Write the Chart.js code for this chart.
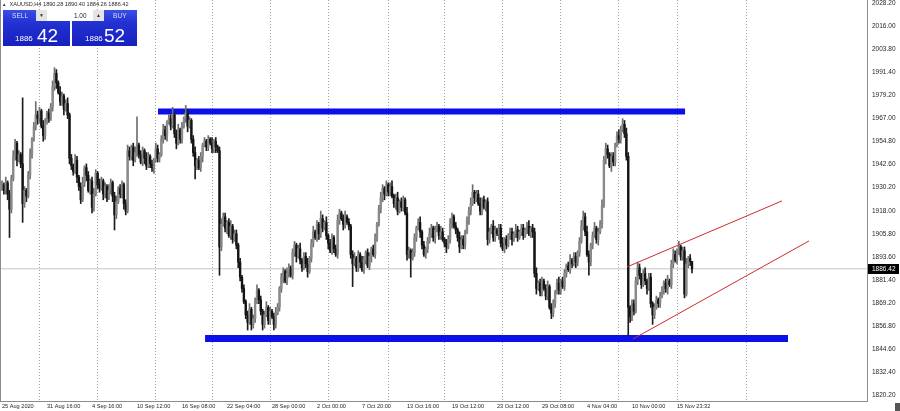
<!DOCTYPE html>
<html>
<head>
<meta charset="utf-8">
<script src="https://cdn.jsdelivr.net/npm/chart.js@4.4.1/dist/chart.umd.min.js"></script>
<style>
  html, body { margin: 0; padding: 0; background: #fff; }
  #wrap { position: relative; width: 900px; height: 411px; overflow: hidden; font-family: "Liberation Sans", Arial, sans-serif; }
  canvas { display: block; }
  #hdr { position: absolute; left: 2px; top: 0px; font-size: 5.6px; line-height: 8px; color: #2a2a2a; white-space: nowrap; }
  #hdr .tri { font-size: 4.5px; margin-right: 3px; }
  .blk { position: absolute; top: 10px; height: 36px; background: linear-gradient(to bottom, #3b4ee6 0%, #2332d2 35%, #1620bd 100%); }
  #sellBlk { left: 3px; width: 67px; }
  #buyBlk { left: 72px; width: 65px; }
  #lot { position: absolute; left: 36px; top: 10px; width: 68px; height: 11px; background: #fff; }
  #lot .btn { position: absolute; top: 0; width: 11px; height: 11px; background: #e4e4e4; color: #333; font-size: 5px; line-height: 11px; text-align: center; }
  #lotv { position: absolute; left: 38px; top: 0; font-size: 6.4px; line-height: 11px; color: #222; }
  .cap { position: absolute; top: 10px; font-size: 6.6px; line-height: 11px; color: #d9ddff; }
  .sm { position: absolute; top: 35px; font-size: 8px; line-height: 8px; color: #fff; }
  .bg { position: absolute; top: 26px; font-size: 19px; line-height: 19px; color: #fff; }
  #corner { position: absolute; left: 895px; top: 403px; width: 5px; height: 8px; background: #555; }
</style>
</head>
<body>
<div id="wrap">
  <canvas id="chart" width="900" height="411"></canvas>
  <div id="hdr"><span class="tri">▲</span><span id="ohlc"></span></div>
  <div class="blk" id="sellBlk"></div>
  <div class="blk" id="buyBlk"></div>
  <div id="lot"><span class="btn" style="left:0">▼</span><span id="lotv">1.00</span><span class="btn" style="left:57px">▲</span></div>
  <div class="cap" style="left:12px">SELL</div>
  <div class="cap" style="left:113px">BUY</div>
  <div class="sm" id="sellBig" style="left:15px"></div>
  <div class="bg" id="sellPips" style="left:37px"></div>
  <div class="sm" id="buyBig" style="left:85px"></div>
  <div class="bg" id="buyPips" style="left:104px"></div>
  <div id="corner"></div>
</div>
<script>
// XAUUSD, H4 — one candle per bar index, oldest first
const symbol = 'XAUUSD,H4';
const firstOpen = 1929;
const closes = [
  1931,1928,1932,1926,1918,1934,1946,1953,1944,1947,
  1942,1921,1928,1925,1936,1947,1955,1962,1968,1966,
  1970,1962,1957,1964,1969,1966,1972,1983,1990,1985,
  1980,1975,1978,1971,1974,1968,1945,1941,1938,1944,
  1935,1930,1923,1932,1940,1936,1928,1933,1919,1926,
  1937,1931,1929,1933,1926,1930,1924,1928,1932,1925,
  1915,1922,1929,1926,1931,1921,1917,1949,1946,1951,
  1944,1948,1952,1947,1943,1949,1945,1941,1946,1942,
  1940,1944,1950,1945,1947,1955,1960,1957,1964,1966,
  1962,1968,1958,1953,1960,1955,1962,1966,1969,1962,
  1965,1955,1948,1941,1944,1940,1946,1952,1954,1951,
  1955,1953,1950,1954,1951,1949,1898,1910,1914,1908,
  1911,1904,1909,1902,1905,1899,1890,1882,1876,1869,
  1862,1858,1865,1857,1860,1869,1875,1870,1864,1857,
  1862,1866,1859,1864,1861,1857,1863,1866,1876,1882,
  1885,1880,1884,1887,1883,1895,1899,1893,1897,1891,
  1887,1893,1889,1885,1892,1900,1906,1903,1910,1905,
  1913,1908,1911,1904,1900,1896,1903,1897,1894,1912,
  1916,1913,1910,1914,1911,1909,1894,1889,1892,1887,
  1894,1890,1886,1891,1895,1888,1893,1897,1894,1903,
  1910,1918,1924,1929,1926,1931,1927,1930,1925,1921,
  1924,1917,1922,1919,1923,1916,1894,1896,1892,1895,
  1903,1908,1911,1906,1899,1894,1897,1901,1905,1908,
  1903,1907,1909,1904,1906,1902,1900,1898,1902,1910,
  1914,1909,1907,1903,1898,1902,1899,1906,1912,1917,
  1921,1927,1924,1926,1921,1917,1923,1919,1922,1902,
  1906,1909,1903,1907,1905,1908,1900,1897,1902,1899,
  1904,1906,1902,1905,1907,1903,1906,1908,1904,1907,
  1909,1905,1908,1906,1884,1876,1879,1874,1880,1876,
  1872,1877,1866,1863,1868,1874,1879,1875,1880,1877,
  1884,1888,1886,1891,1889,1893,1890,1895,1901,1909,
  1914,1906,1894,1890,1899,1904,1908,1902,1906,1910,
  1920,1944,1950,1947,1941,1946,1943,1952,1957,1955,
  1960,1963,1958,1946,1866,1861,1868,1864,1880,1887,
  1883,1878,1884,1880,1876,1882,1868,1862,1866,1870,
  1868,1872,1875,1879,1876,1880,1878,1889,1894,1891,
  1895,1898,1893,1896,1873,1889,1892,1890.28,1886.42
];
// wick lengths above the body top / below the body bottom
const upperWick = [
  2,1,3,1,2,2,3,2,1,2, 1,35,2,1,2,3,1,2,7,2, 2,1,3,2,1,2,2,3,3,2, 1,3,2,1,2,3,1,2,1,3,
  2,1,2,3,1,2,2,1,2,3, 2,1,3,2,1,2,1,3,2,1, 2,3,1,2,2,1,2,3,2,1, 2,3,15,1,2,2,1,3,2,1,
  2,1,3,2,1,2,3,2,1,2, 2,4,1,2,3,1,2,1,4,2, 2,1,2,3,1,2,2,1,2,1, 2,1,3,1,2,1,2,3,2,2,
  1,2,3,1,2,2,1,2,1,2, 1,2,3,1,2,2,3,1,2,1, 2,3,1,2,1,2,3,2,1,2, 2,1,3,2,1,2,2,1,2,3,
  1,2,2,3,1,2,3,1,2,1, 4,2,1,3,1,2,2,1,2,3, 2,1,2,3,1,2,1,2,3,1, 2,1,3,2,1,2,2,1,2,2,
  1,2,3,2,1,2,1,2,3,1, 2,3,1,2,2,1,3,2,1,2, 2,1,2,3,1,2,1,2,3,2, 1,2,2,1,3,2,1,2,2,3,
  2,1,2,1,3,2,2,1,2,2, 3,4,1,2,2,3,1,2,1,2, 2,1,3,2,1,2,2,3,1,2, 1,2,2,1,3,2,1,2,2,1,
  2,3,1,2,2,3,1,2,2,1, 2,3,1,2,2,1,2,3,1,2, 2,1,2,3,1,2,2,1,2,3, 3,2,3,2,1,2,3,1,2,2,
  3,2,3,2,1,2,2,1,2,3, 2,3,2,3,2,1,2,2,2,3, 2,1,2,3,1,2,2,1,2,2, 1,2,2,1,2,3,1,2,3,2,
  2,3,1,2,2,3,1,2,0.12
];
const lowerWick = [
  1,2,2,3,15,2,1,2,3,1, 2,10,2,3,1,2,2,1,2,3, 2,1,3,2,1,2,1,2,2,3, 1,2,2,3,1,2,3,2,2,1,
  3,2,2,1,2,3,1,2,3,2, 1,2,2,1,3,2,2,1,2,3, 8,2,1,2,2,3,2,1,2,2, 3,1,2,2,1,2,3,2,1,2,
  2,3,1,2,2,1,2,2,3,1, 2,1,2,3,1,2,2,1,2,3, 1,2,2,7,2,1,2,3,1,2, 2,1,2,2,3,1,15,2,1,2,
  3,1,2,2,1,2,3,2,2,1, 2,4,1,3,2,2,1,2,2,3, 2,1,2,2,1,3,2,1,2,2, 3,1,2,2,1,2,2,3,1,2,
  2,1,2,3,1,2,2,1,2,3, 2,2,1,2,3,1,2,2,1,2, 2,1,3,2,1,2,2,12,1,2, 2,3,1,2,2,1,2,3,1,2,
  2,1,2,2,3,1,2,2,1,2, 3,2,1,2,2,1,3,2,10,1, 2,2,1,3,2,1,2,2,1,2, 2,3,1,2,2,1,2,3,1,2,
  2,1,2,2,3,1,2,2,1,2, 2,1,3,2,1,2,2,1,2,3, 2,1,2,2,1,3,2,1,2,2, 1,2,3,1,2,2,1,2,2,1,
  2,1,2,3,2,3,1,2,2,1, 2,2,1,3,2,2,1,2,2,1, 2,2,1,2,2,1,3,2,2,1, 2,2,1,7,2,2,1,2,3,1,
  2,1,2,2,1,3,2,2,1,2, 2,1,2,2,15,3,2,2,1,2, 2,2,1,2,3,1,2,5,2,1, 2,2,1,2,2,3,1,2,2,1,
  2,1,2,2,2,1,2,2,2.16
];

// time axis: label text and the bar each label starts at
const timeLabels = ['25 Aug 2020','31 Aug 16:00','4 Sep 16:00','10 Sep 12:00','16 Sep 08:00','22 Sep 04:00',
  '28 Sep 00:00','2 Oct 00:00','7 Oct 20:00','13 Oct 16:00','19 Oct 12:00','23 Oct 12:00',
  '29 Oct 08:00','4 Nov 04:00','10 Nov 00:00','15 Nov 23:32'];
const labelBars = [0,24,48,72,96,120,144,168,192,216,240,264,288,312,336,360];
// weekly separators (dotted)
const gridBars = [20,51,82,112,143,174,206,236,267,298,329,360,397];
// price axis
const priceTicks = [2028.20,2016.00,2003.80,1991.40,1979.20,1967.00,1954.80,1942.60,1930.20,1918.00,
  1905.80,1893.60,1881.40,1869.20,1856.80,1844.60,1832.40,1820.20];

const bid = 1886.42;
const ask = 1886.52;

// drawn objects: [bar, price] end points
const resistanceBand = [[83.2, 1969.8], [364.3, 1969.8]];
const supportBand = [[108.3, 1849.5], [419.2, 1849.5]];
const channelUpper = [[333.3, 1887.4], [416.0, 1922.4]];
const channelLower = [[336.5, 1849.2], [430.4, 1901.2]];

// visible window
const xMin = -1.067, xMax = 461.33;
const yMin = 1816.39, yMax = 2028.84;

// ---- build candles ----
const path = [firstOpen].concat(closes);
const bodies = [], wicks = [];
closes.forEach((c, i) => {
  const o = path[i];
  const up = c >= o;
  const hi = Math.max(o, c) + upperWick[i];
  const lo = Math.min(o, c) - lowerWick[i];
  bodies.push({ x: i, y: [o, c], up });
  wicks.push({ x: i, y: [lo, hi], up });
});
const last = closes.length - 1;
const lastOpen = path[last], lastClose = closes[last];
const lastHigh = Math.max(lastOpen, lastClose) + upperWick[last];
const lastLow = Math.min(lastOpen, lastClose) - lowerWick[last];
document.getElementById('ohlc').textContent =
  symbol + '  ' + [lastOpen, lastHigh, lastLow, lastClose].map(v => v.toFixed(2)).join(' ');

function splitPrice(p) {
  return p.toFixed(2).split('.');
}
const sp = splitPrice(bid), ap = splitPrice(ask);
document.getElementById('sellBig').textContent = sp[0];
document.getElementById('sellPips').textContent = sp[1];
document.getElementById('buyBig').textContent = ap[0];
document.getElementById('buyPips').textContent = ap[1];

const seg = pts => pts.map(p => ({ x: p[0], y: p[1] }));
const bullBody = '#8a8a8a', bearBody = '#141414';
const bullWick = '#6e6e6e', bearWick = '#1c1c1c';
const FONT = 'Liberation Sans';

const priceBox = {
  id: 'priceBox',
  beforeDraw(chart) {
    const c = chart.ctx;
    c.save(); c.fillStyle = '#fff'; c.fillRect(0, 0, chart.width, chart.height); c.restore();
  },
  afterDraw(chart) {
    const c = chart.ctx, area = chart.chartArea, ys = chart.scales.y;
    const py = Math.round(ys.getPixelForValue(bid));
    c.save();
    // left frame
    c.strokeStyle = '#8c8c8c'; c.lineWidth = 1;
    c.beginPath(); c.moveTo(0.5, 0); c.lineTo(0.5, area.bottom); c.stroke();
    // current price tag
    c.fillStyle = '#000';
    c.fillRect(area.right + 1, py - 5, 31, 10);
    c.fillStyle = '#fff';
    c.font = '6.5px "' + FONT + '"';
    c.textBaseline = 'middle';
    c.fillText(bid.toFixed(2), area.right + 5, py + 0.5);
    c.restore();
  }
};

new Chart(document.getElementById('chart'), {
  type: 'bar',
  data: {
    datasets: [
      { type: 'line', data: seg(resistanceBand), borderColor: '#0b10e8', borderWidth: 6, borderCapStyle: 'butt', pointRadius: 0, xAxisID: 'x', yAxisID: 'y', order: 4 },
      { type: 'line', data: seg(supportBand), borderColor: '#0b10e8', borderWidth: 7, borderCapStyle: 'butt', pointRadius: 0, xAxisID: 'x', yAxisID: 'y', order: 4 },
      { type: 'line', data: [{ x: xMin, y: bid }, { x: xMax, y: bid }], borderColor: '#c6c6c6', borderWidth: 1, pointRadius: 0, xAxisID: 'x', yAxisID: 'y', order: 5 },
      {
        type: 'bar', data: wicks, grouped: false, barThickness: 1, borderWidth: 0, xAxisID: 'x', yAxisID: 'y', order: 2,
        backgroundColor: ctx => (ctx.raw && ctx.raw.up) ? bullWick : bearWick
      },
      {
        type: 'bar', data: bodies, grouped: false, barThickness: 1.7, borderWidth: 0, xAxisID: 'x', yAxisID: 'y', order: 1,
        backgroundColor: ctx => (ctx.raw && ctx.raw.up) ? bullBody : bearBody
      },
      { type: 'line', data: seg(channelUpper), borderColor: '#cf2c2c', borderWidth: 1, pointRadius: 0, xAxisID: 'x', yAxisID: 'y', order: 0 },
      { type: 'line', data: seg(channelLower), borderColor: '#cf2c2c', borderWidth: 1, pointRadius: 0, xAxisID: 'x', yAxisID: 'y', order: 0 }
    ]
  },
  options: {
    responsive: false,
    animation: false,
    devicePixelRatio: 1,
    events: [],
    layout: { padding: 0 },
    plugins: { legend: { display: false }, tooltip: { enabled: false } },
    scales: {
      x: {
        type: 'linear', position: 'bottom', min: xMin, max: xMax, offset: false,
        grid: { display: false, drawTicks: false, offset: false },
        border: { display: true, color: '#8c8c8c', width: 1 },
        ticks: {
          autoSkip: false, maxRotation: 0, minRotation: 0, align: 'start', padding: 2,
          color: '#262626', font: { family: FONT, size: 5.6 },
          callback: (v, i) => timeLabels[i]
        },
        afterBuildTicks: s => { s.ticks = labelBars.map(v => ({ value: v })); },
        afterFit: s => { s.height = 10; s.paddingLeft = 0; s.paddingRight = 0; }
      },
      xg: {
        type: 'linear', axis: 'x', position: 'bottom', min: xMin, max: xMax, offset: false,
        ticks: { display: false },
        grid: { display: true, drawTicks: false, offset: false, color: '#a4a4a4', lineWidth: 1 },
        border: { display: false, dash: [1, 2] },
        afterBuildTicks: s => { s.ticks = gridBars.map(v => ({ value: v })); },
        afterFit: s => { s.height = 0; s.paddingLeft = 0; s.paddingRight = 0; }
      },
      y: {
        type: 'linear', position: 'right', min: yMin, max: yMax, beginAtZero: false,
        grid: { display: false, drawTicks: false },
        border: { display: true, color: '#8c8c8c', width: 1 },
        ticks: {
          autoSkip: false, padding: 5, labelOffset: 1.5,
          color: '#262626', font: { family: FONT, size: 6.5 },
          callback: v => Number(v).toFixed(2)
        },
        afterBuildTicks: s => { s.ticks = priceTicks.map(v => ({ value: v })); },
        afterFit: s => { s.width = 33; s.paddingTop = 0; s.paddingBottom = 0; }
      }
    }
  },
  plugins: [priceBox]
});
</script>
</body>
</html>
